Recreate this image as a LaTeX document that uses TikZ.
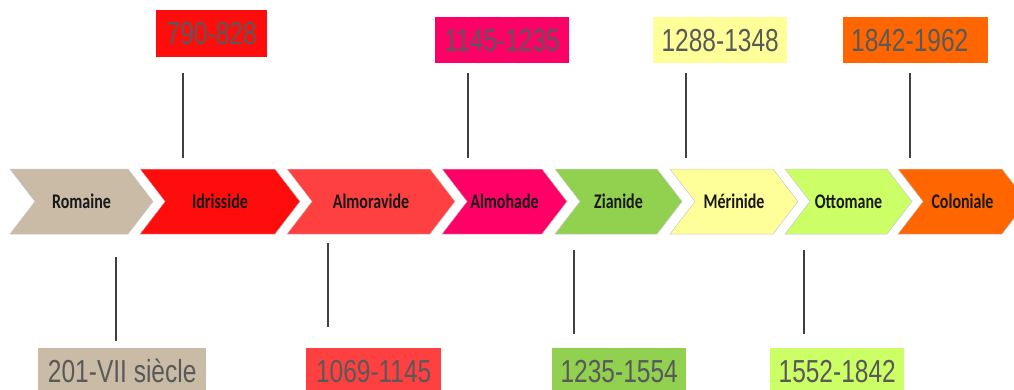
\documentclass[tikz,border=0pt]{standalone}
\usepackage{fontspec}
\newfontfamily\carl{Carlito}
\newfontfamily\arialf{Liberation Sans}
\definecolor{cRom}{HTML}{C9BBA5}
\definecolor{cIdr}{HTML}{FF0D0D}
\definecolor{cAlmr}{HTML}{FF4040}
\definecolor{cAlmh}{HTML}{FF0066}
\definecolor{cZia}{HTML}{92D050}
\definecolor{cMer}{HTML}{FFFF99}
\definecolor{cOtt}{HTML}{CCFF66}
\definecolor{cCol}{HTML}{FF6600}
\definecolor{dtext}{HTML}{595959}
\definecolor{lline}{HTML}{404040}
\newcommand\vs[1]{\scalebox{1}[1.3]{#1}}
\newcommand\chev[5]{%
  \fill[#4, draw=black!22, line width=0.5pt] (#2,169) -- (#3,169) -- (#3+25,201.5) -- (#3,234) -- (#2,234) -- (#2+25,201.5) -- cycle;
  \node[chevlab] (#1) at ({(#2+25+#3)/2},201.5) {\vs{#5}};}
\tikzset{
  chevlab/.style={font=\carl\bfseries\fontsize{16}{16}\selectfont, text=black!90, inner sep=0pt},
  datebox/.style={font=\arialf\fontsize{24.5}{24.5}\selectfont, text=dtext, inner sep=0pt, minimum height=46pt, anchor=north west},
  conn/.style={draw=lline, line width=1.8pt}
}
\begin{document}
\begin{tikzpicture}[x=1pt,y=-1pt]
\useasboundingbox (0,0) rectangle (1014,389);
\clip (0,0) rectangle (1014,389);
% chevrons
\chev{rom}{10}{128}{cRom}{Romaine}
\chev{idr}{140}{275}{cIdr}{Idrisside}
\chev{almr}{287}{430}{cAlmr}{Almoravide}
\chev{almh}{442}{542}{cAlmh}{Almohade}
\chev{zia}{555}{657}{cZia}{Zianide}
\chev{mer}{670}{773}{cMer}{Mérinide}
\chev{ott}{785}{887}{cOtt}{Ottomane}
\chev{col}{898}{1002}{cCol}{Coloniale}
% date boxes top
\node[datebox, fill=cIdr, minimum width=111pt, minimum height=47pt] (d1) at (156,10) {\vs{790-828}};
\node[datebox, fill=cAlmh, minimum width=134pt] (d2) at (435,17) {\vs{1145-1235}};
\node[datebox, fill=cMer, minimum width=134pt] (d3) at (653,17) {\vs{1288-1348}};
\node[datebox, fill=cCol, minimum width=145pt] (d4) at (843,17) {\hspace*{-12pt}\vs{1842-1962}};
% date boxes bottom
\node[datebox, fill=cRom, minimum width=168pt] (b1) at (38,348) {\vs{201-VII siècle}};
\node[datebox, fill=cAlmr, minimum width=135pt] (b2) at (306,348) {\vs{1069-1145}};
\node[datebox, fill=cZia, minimum width=134pt] (b3) at (552,348) {\vs{1235-1554}};
\node[datebox, fill=cOtt, minimum width=134pt] (b4) at (770,348) {\vs{1552-1842}};
% connector end points
\coordinate (t1a) at (183,73);  \coordinate (t1b) at (183,158);
\coordinate (t2a) at (468,73);  \coordinate (t2b) at (468,158);
\coordinate (t3a) at (686,73);  \coordinate (t3b) at (686,158);
\coordinate (t4a) at (910,73);  \coordinate (t4b) at (910,158);
\coordinate (u1a) at (116,257); \coordinate (u1b) at (116,341);
\coordinate (u2a) at (328,243); \coordinate (u2b) at (328,327);
\coordinate (u3a) at (574,250); \coordinate (u3b) at (574,334);
\coordinate (u4a) at (804,250); \coordinate (u4b) at (804,334);
\draw[conn] (t1a) -- (t1b);
\draw[conn] (t2a) -- (t2b);
\draw[conn] (t3a) -- (t3b);
\draw[conn] (t4a) -- (t4b);
\draw[conn] (u1a) -- (u1b);
\draw[conn] (u2a) -- (u2b);
\draw[conn] (u3a) -- (u3b);
\draw[conn] (u4a) -- (u4b);
\end{tikzpicture}
\end{document}
